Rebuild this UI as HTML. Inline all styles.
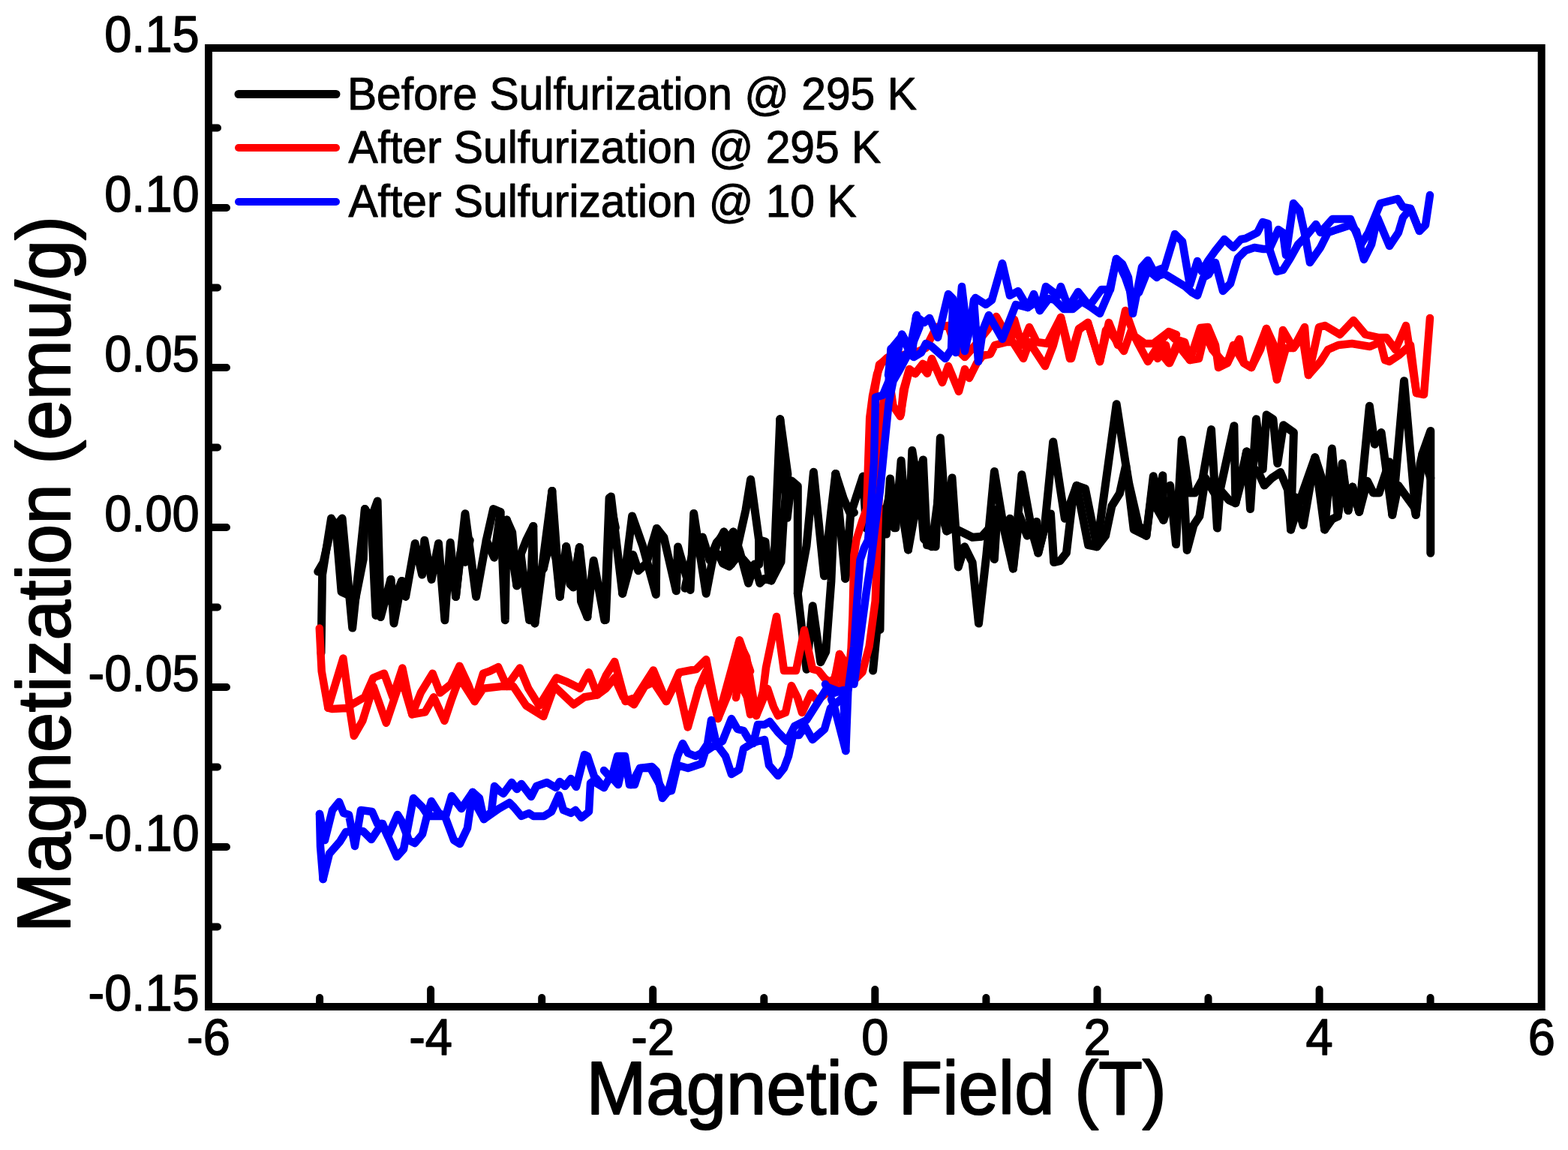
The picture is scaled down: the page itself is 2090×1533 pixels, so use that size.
<!DOCTYPE html>
<html><head><meta charset="utf-8"><title>Magnetization vs Magnetic Field</title>
<style>
html,body{margin:0;padding:0;background:#fff;}
body{width:2090px;height:1533px;overflow:hidden;}
svg{display:block;}
text{font-family:"Liberation Sans",Arial,sans-serif;fill:#000;}
</style></head><body>
<svg width="2090" height="1533" viewBox="0 0 2090 1533">
<rect width="2090" height="1533" fill="#fff"/>
<g fill="none" stroke="#000" stroke-width="11" stroke-linejoin="round" stroke-linecap="round">
<polyline points="428.0,870.5 429.6,766.1 441.5,691.0 447.8,701.4 456.1,691.0 469.7,837.1 486.4,678.5 494.8,691.0 503.1,668.0 507.3,822.5 520.9,772.4 525.0,830.9 535.5,774.5 540.7,795.4 553.2,724.4 562.6,766.1 565.8,720.2 575.1,772.4 584.5,724.4 592.9,826.7 600.2,723.3 607.5,795.4 620.0,684.7 634.6,795.4 648.2,720.2 657.6,678.5 667.0,682.6 673.3,826.7 675.4,693.1 688.9,780.8 694.1,739.0 705.6,826.7 710.8,701.4 712.9,830.9 735.9,654.4 746.3,795.4 754.7,728.6 764.1,782.8 772.4,729.6 782.9,822.5 791.2,747.3 805.8,826.7 812.1,663.8 820.4,703.5"/>
<polyline points="423.8,762.0 431.1,749.4 441.5,703.5"/>
<polyline points="447.8,701.4 455.1,789.1 473.9,797.5 484.3,745.3 486.4,678.5"/>
<polyline points="494.8,691.0 501.0,820.4"/>
<polyline points="520.9,772.4 523.0,803.7 530.3,787.0 535.5,774.5"/>
<polyline points="607.5,795.4 613.8,736.9 620.0,749.4 626.3,720.2"/>
<polyline points="648.2,720.2 658.7,743.2 667.0,682.6"/>
<polyline points="675.4,693.1 682.7,709.8 688.9,780.8"/>
<polyline points="694.1,739.0 701.5,720.2 710.8,701.4"/>
<polyline points="712.9,830.9 718.2,766.1 724.4,757.8 733.8,718.1 741.1,745.3 746.3,795.4"/>
<polyline points="735.9,654.4 730.7,703.5 724.4,757.8"/>
<polyline points="754.7,728.6 759.9,778.7 764.1,782.8 772.4,729.6 774.5,801.6 782.9,822.5"/>
<polyline points="807.3,826.5 814.4,662.1 829.7,791.2 842.6,687.9 856.7,727.8 874.3,792.4 875.4,704.4 884.8,716.1 901.3,787.7 903.6,729.0 920.1,786.5 924.7,684.4 941.2,791.2 948.9,751.1 955.0,726.9 964.9,709.1 971.0,718.0 977.3,709.1 986.0,734.9 997.5,777.4 1006.0,752.0 1012.8,777.4 1018.7,771.5 1028.1,773.9 1032.8,727.8 1039.8,558.8 1049.2,690.3 1055.1,641.0 1063.3,648.0 1063.3,791.2 1075.0,892.2 1083.2,807.7 1093.8,882.8 1100.8,868.7 1107.9,774.8 1113.8,631.6 1126.7,771.3 1133.7,685.6 1150.2,635.1 1154.8,704.4"/>
<polyline points="829.7,791.2 843.7,739.6 850.8,760.7 861.4,751.3 875.4,704.4"/>
<polyline points="913.0,784.2 927.1,718.4 936.5,716.1 945.9,746.6 955.3,723.1 965.8,711.4"/>
<polyline points="1063.3,791.2 1075.0,727.8 1084.4,629.2 1098.5,767.8 1107.9,680.9 1113.8,631.6"/>
<polyline points="1039.8,558.8 1049.9,632.0 1044.5,690.0 1041.0,749.0 1028.1,773.9"/>
<polyline points="958.1,739.1 963.5,751.1 971.9,755.1 980.6,745.0 983.9,725.0 994.0,679.9 1000.6,639.1 1011.6,719.9 1011.6,752.5 998.7,755.1 990.0,745.0"/>
<polyline points="1113.8,631.6 1124.3,664.4 1133.7,685.6 1138.4,683.2"/>
<polyline points="1126.7,771.3 1133.7,727.8"/>
<polyline points="965.0,709.0 967.0,745.0 971.0,718.0 975.0,752.0 977.4,709.0"/>
<polyline points="1011.6,719.8 1020.0,722.0 1025.0,770.0"/>
<polyline points="1163.6,894.0 1168.7,841.4 1172.7,760.6 1174.7,700.0"/>
<polyline points="1173.0,839.4 1175.1,678.7 1181.3,712.1 1186.5,638.0 1193.8,703.7 1201.1,613.9 1210.5,732.9 1215.8,600.4 1223.1,645.3 1230.4,612.9 1235.6,726.7 1247.1,728.8 1253.3,583.7 1261.7,707.9 1269.0,636.9 1277.3,755.9 1285.7,728.8 1296.1,749.6 1304.5,831.1 1314.9,739.2 1325.4,628.6 1337.9,703.7 1350.4,758.0 1361.9,632.7 1375.5,707.9 1383.8,737.1 1392.2,703.7 1403.7,588.9 1419.3,691.2 1435.0,647.3 1446.5,651.5 1462.1,728.8 1488.2,538.8 1500.7,620.2 1511.2,705.8 1527.9,714.2 1537.3,634.8 1543.5,666.1 1549.8,633.8 1550.8,693.3 1560.0,666.1"/>
<polyline points="1175.1,707.9 1186.5,655.7 1191.8,703.7 1200.1,666.1 1210.5,732.9 1218.9,687.0 1223.1,620.2 1231.4,718.3 1241.9,728.8 1250.2,666.1 1261.7,707.9 1271.1,703.7 1283.6,710.0 1296.1,716.2 1308.7,715.2 1317.0,705.8 1325.4,745.5 1329.5,678.7 1337.9,703.7 1346.2,691.2 1350.4,758.0 1358.8,687.0 1369.2,714.2 1381.7,695.4 1383.8,737.1 1392.2,703.7 1400.5,684.9 1404.7,749.6 1413.0,747.6 1421.4,737.1 1429.7,666.1 1435.0,647.3 1450.6,726.7 1462.1,728.8 1473.6,714.2 1481.9,674.5 1492.4,657.8 1500.7,620.2 1504.9,645.3 1517.4,699.5 1527.9,714.2 1536.2,649.4 1542.5,678.7 1550.8,693.3"/>
<polyline points="1559.6,647.1 1567.5,725.6 1575.3,586.3 1585.1,656.9 1593.0,656.9 1602.8,639.3 1614.5,572.6 1622.4,704.0 1626.3,653.0 1644.9,567.7 1646.9,670.7 1661.6,602.0 1666.5,678.5 1674.4,558.8 1683.2,625.5 1688.1,553.0 1696.9,558.8 1702.8,617.7 1710.7,566.7 1724.4,576.5 1720.5,706.0 1726.3,662.8 1737.1,700.1 1752.8,609.8 1765.6,706.0 1775.4,598.1 1783.2,688.3 1789.1,617.7 1797.0,680.5 1802.8,649.1 1811.7,682.4 1825.4,541.2 1832.3,592.2 1841.1,576.5 1855.8,686.3 1871.5,507.8 1887.2,686.3 1896.0,604.9 1906.8,574.5 1906.8,737.3"/>
<polyline points="1577.3,637.3 1582.2,733.4 1591.0,700.1 1598.8,688.3 1606.7,637.3 1618.5,656.9 1626.3,653.0 1638.1,666.7 1646.9,670.7 1655.7,637.3 1661.6,602.0 1667.5,621.6 1677.3,629.5 1685.2,647.1 1695.0,637.3 1706.7,629.5 1716.5,653.0 1720.5,706.0 1736.2,656.9 1752.8,609.8 1761.7,637.3 1765.6,706.0 1775.4,692.2 1783.2,688.3 1791.1,637.3 1797.0,680.5 1802.8,649.1 1811.7,682.4 1822.5,641.2 1830.3,656.9 1838.2,656.9 1851.9,615.7 1855.8,686.3 1863.7,647.1 1885.2,676.5 1887.2,686.3 1893.1,617.7 1896.0,604.9 1906.8,637.3"/>
</g>
<g fill="none" stroke="#f00" stroke-width="10.5" stroke-linejoin="round" stroke-linecap="round">
<polyline points="425.8,837.4 428.7,894.8 437.3,943.7 457.4,877.6 466.0,940.8 486.1,929.3 497.6,903.5 512.0,897.7 523.5,929.3 536.4,890.5 549.3,952.3 560.8,923.6 576.6,897.7 586.6,923.6 601.0,912.1 612.5,887.7 623.9,912.1 632.6,935.0 644.0,897.7 652.7,894.8 664.1,889.1 675.6,914.9 692.9,890.5 704.3,917.8 718.7,940.8 741.7,903.5 756.0,909.2 773.2,917.8 784.7,896.3 796.2,926.4 807.7,900.6 819.2,881.9 833.5,935.0 847.9,929.3 870.9,893.4 888.1,935.0 905.3,896.3 928.3,892.0 941.2,879.1 957.0,958.0 985.7,853.2 1000.1,894.8"/>
<polyline points="437.3,943.7 443.1,945.1 466.0,943.7 471.8,981.0 483.3,960.9 497.6,914.9 514.8,963.7 526.3,929.3 534.9,903.5 549.3,952.3 566.5,949.4 578.0,929.3 592.4,960.9 601.0,935.0 612.5,903.5 632.6,935.0 644.0,917.8 669.9,914.9 684.2,914.9 701.5,940.8 724.4,955.1 738.8,914.9 764.6,939.3 779.0,929.3 796.2,926.4 807.7,917.8 819.2,903.5 830.7,929.3 845.0,939.3 859.4,914.9 870.9,909.2 888.1,935.0 902.4,906.3 916.8,969.5 931.2,917.8 941.2,894.8 957.0,958.0 971.3,923.6 985.7,874.7 1000.1,952.3"/>
<polyline points="973.0,918.0 985.0,856.0 995.0,876.0 1008.0,954.0 1017.0,922.0 1021.0,890.0 1035.0,822.0 1045.0,894.0 1051.0,894.0 1061.0,894.0 1072.0,840.0 1083.0,892.0 1091.0,894.0 1099.0,904.0 1111.0,914.0 1119.0,872.0 1127.0,884.0"/>
<polyline points="981.0,930.0 985.0,902.0 991.0,920.0 1001.0,938.0 1008.0,954.0 1023.0,918.0 1031.0,942.0 1037.0,954.0 1047.0,950.0 1055.0,914.0 1063.0,930.0 1069.0,950.0 1081.0,924.0 1089.0,934.0 1099.0,926.0 1111.0,914.0 1123.0,916.0 1127.0,920.0"/>
<polyline points="1119.0,872.0 1123.5,921.0 1131.0,901.5 1134.6,864.0 1136.5,820.0 1138.4,740.0 1141.5,719.5 1149.4,694.0 1155.2,678.4 1157.2,615.8 1159.2,557.0 1163.0,527.7 1169.0,498.3 1174.8,484.6 1182.6,476.8 1195.0,470.0"/>
<polyline points="1103.0,910.0 1112.0,905.0 1120.0,880.0 1124.0,897.0 1130.0,915.0 1149.5,896.0 1158.6,861.6 1166.7,801.0 1169.7,720.0 1172.0,650.0 1174.0,580.0 1178.0,530.0 1186.0,510.0 1190.5,541.0 1200.0,555.0 1206.0,518.0 1212.0,494.0 1220.0,498.0 1230.0,485.0 1240.0,490.0"/>
<polyline points="1162.0,560.0 1166.0,520.0 1172.0,486.0 1180.0,480.0 1200.0,474.0 1220.0,470.0 1234.0,464.0 1248.0,436.0 1264.0,434.0 1274.0,464.0 1286.0,476.0 1300.0,460.0 1316.0,440.0 1328.0,422.0 1336.0,436.0 1348.0,452.0 1352.0,426.0 1362.0,460.0 1372.0,436.0 1382.0,456.0 1396.0,458.0 1414.0,423.0 1426.0,478.0 1438.0,438.0 1450.0,430.0 1466.0,482.0 1478.0,430.0 1490.0,460.0 1500.0,414.0 1512.0,448.0 1526.0,458.0 1544.0,458.0 1558.0,442.0 1568.0,446.0"/>
<polyline points="1201.0,552.0 1204.0,520.0 1212.0,492.0 1220.0,498.0 1228.0,488.0 1236.0,498.0 1242.0,478.0 1256.0,510.0 1264.0,488.0 1278.0,522.0 1286.0,492.0 1292.0,504.0 1302.0,484.0 1310.0,474.0 1320.0,472.0 1326.0,460.0 1342.0,456.0 1350.0,456.0 1364.0,478.0 1372.0,456.0 1393.0,488.0 1404.0,460.0 1414.0,423.0 1428.0,478.0 1438.0,440.0 1450.0,430.0 1466.0,482.0 1474.0,440.0 1482.0,446.0 1498.0,468.0 1508.0,440.0 1516.0,456.0 1530.0,482.0 1542.0,464.0 1558.0,484.0 1568.0,460.0"/>
<polyline points="1540.0,456.0 1557.0,443.0 1566.0,452.0 1579.0,456.0 1586.0,480.0 1600.0,437.0 1610.0,436.0 1620.0,460.0 1624.0,490.0 1636.0,484.0 1652.0,452.0 1658.0,484.0 1668.0,490.0 1688.0,438.0 1702.0,506.0 1710.0,440.0 1724.0,464.0 1739.0,436.0 1744.0,500.0 1752.0,464.0 1758.0,436.0 1766.0,434.0 1786.0,446.0 1804.0,427.0 1820.0,446.0 1838.0,450.0 1848.0,450.0 1860.0,466.0 1874.0,434.0 1888.0,524.0 1898.0,526.0 1906.0,424.0"/>
<polyline points="1543.0,478.0 1554.0,460.0 1559.0,484.0 1570.0,460.0 1586.0,480.0 1598.0,478.0 1606.0,444.0 1616.0,466.0 1628.0,480.0 1636.0,484.0 1644.0,460.0 1658.0,484.0 1668.0,490.0 1680.0,466.0 1688.0,438.0 1698.0,460.0 1702.0,506.0 1714.0,464.0 1724.0,464.0 1736.0,448.0 1744.0,500.0 1760.0,482.0 1770.0,466.0 1784.0,460.0 1802.0,458.0 1826.0,462.0 1840.0,456.0 1846.0,480.0 1852.0,482.0 1864.0,474.0 1880.0,460.0 1888.0,524.0"/>
</g>
<g fill="none" stroke="#00f" stroke-width="10.5" stroke-linejoin="round" stroke-linecap="round">
<polyline points="426.0,1085.0 427.0,1128.0 430.6,1172.0"/>
<polyline points="426.0,1085.0 433.0,1120.0 443.0,1080.0 452.0,1069.0 458.0,1084.0 465.0,1086.0 473.0,1128.0 481.0,1080.0 496.0,1082.0 503.0,1098.0 510.0,1098.0 517.0,1115.0 530.0,1086.0 535.0,1094.0 545.0,1120.0 553.0,1124.0 563.0,1112.0 569.0,1088.0 575.0,1068.0 585.0,1084.0 594.0,1088.0 602.0,1061.0 615.0,1078.0 630.0,1056.0 639.0,1064.0 645.0,1092.0 655.0,1082.0 659.0,1048.0 665.0,1054.0 671.0,1058.0 682.0,1043.0 689.0,1052.0 695.0,1045.0 708.0,1062.0 715.0,1048.0 729.0,1043.0 741.0,1050.0 746.0,1042.0 753.0,1048.0 761.0,1038.0 768.0,1049.0 779.0,1006.0 783.0,1008.0 795.0,1044.0 805.0,1050.0 813.0,1036.0 823.0,1030.0"/>
<polyline points="430.6,1172.0 439.0,1138.0 453.0,1122.0 461.0,1109.0 474.0,1108.0 484.0,1108.0 495.0,1119.0 509.0,1098.0 517.0,1115.0 529.0,1142.0 538.0,1132.0 545.0,1096.0 551.0,1064.0 563.0,1076.0 571.0,1088.0 579.0,1088.0 593.0,1088.0 605.0,1120.0 613.0,1125.0 623.0,1104.0 630.0,1056.0 633.0,1070.0 645.0,1092.0 665.0,1078.0 679.0,1070.0 685.0,1076.0 695.0,1088.0 705.0,1084.0 711.0,1088.0 725.0,1088.0 735.0,1082.0 745.0,1060.0 751.0,1080.0 761.0,1084.0 767.0,1080.0 775.0,1090.0 785.0,1082.0 787.0,1044.0 795.0,1038.0 805.0,1050.0"/>
<polyline points="805.0,1027.0 815.0,1038.0 823.0,1008.0 833.0,1008.0 839.0,1046.0 846.0,1046.0 853.0,1024.0 869.0,1022.0 875.0,1028.0 883.0,1064.0 891.0,1054.0 897.0,1032.0 903.0,1008.0 910.0,991.0 917.0,1004.0 927.0,1008.0 935.0,1004.0 943.0,992.0 948.0,960.0 955.0,992.0 963.0,988.0 975.0,958.0 983.0,972.0 991.0,974.0 997.0,984.0 1004.0,991.0 1010.0,966.0 1019.0,966.0 1026.0,962.0 1037.0,976.0 1049.0,988.0 1059.0,968.0 1067.0,964.0 1075.0,960.0 1103.0,916.0 1121.0,923.0 1127.0,928.0"/>
<polyline points="817.0,1038.0 824.0,1046.0 831.0,1016.0 841.0,1046.0 853.0,1024.0 867.0,1024.0 885.0,1056.0 895.0,1054.0 903.0,1020.0 917.0,1024.0 935.0,1018.0 940.0,1002.0 955.0,992.0 967.0,1008.0 975.0,1032.0 985.0,1026.0 991.0,998.0 1004.0,990.0 1011.0,988.0 1019.0,986.0 1025.0,1020.0 1037.0,1034.0 1045.0,1024.0 1051.0,1008.0 1057.0,980.0 1065.0,980.0 1073.0,968.0 1083.0,986.0 1099.0,972.0 1107.0,944.0 1121.0,932.0 1128.0,940.0"/>
<polyline points="1100.0,912.0 1108.0,925.0 1124.0,920.0 1127.3,1001.0 1130.3,922.0 1138.4,861.6 1142.4,801.0 1146.5,746.5 1152.0,730.0 1157.0,720.0 1161.0,674.5 1165.0,615.8 1167.0,529.6 1176.8,526.7 1184.6,508.0 1187.5,465.0 1194.4,478.7 1202.2,445.5 1212.0,469.0 1221.8,420.0"/>
<polyline points="1108.0,932.0 1112.0,942.0 1127.3,1001.0"/>
<polyline points="1138.4,912.0 1146.5,851.5 1154.5,791.0 1160.6,750.5 1166.7,700.0 1172.9,655.0 1178.7,596.0 1184.6,537.5 1190.5,508.0 1198.3,494.4 1212.0,469.0 1217.9,455.0 1225.7,435.7"/>
<polyline points="1184.0,500.0 1188.0,465.0 1203.0,447.0 1216.0,470.0 1221.0,422.0 1232.0,430.0 1239.0,424.0 1250.0,450.0 1264.0,392.0 1270.0,398.0 1274.0,470.0 1282.0,382.0 1290.0,450.0 1300.0,397.0 1314.0,406.0 1322.0,400.0 1336.0,351.0 1346.0,394.0 1357.0,388.0 1370.0,410.0 1378.0,392.0 1386.0,414.0 1394.0,382.0 1410.0,394.0 1414.0,382.0 1424.0,410.0 1437.0,389.0 1452.0,408.0 1468.0,386.0 1480.0,386.0 1488.0,345.0 1496.0,352.0 1504.0,370.0 1510.0,418.0 1522.0,356.0 1530.0,347.0 1538.0,362.0 1548.0,358.0"/>
<polyline points="1190.0,498.0 1198.0,480.0 1210.0,470.0 1218.0,476.0 1228.0,470.0 1234.0,458.0 1242.0,462.0 1260.0,478.0 1268.0,466.0 1270.0,410.0 1278.0,410.0 1286.0,468.0 1294.0,430.0 1298.0,400.0 1304.0,482.0 1310.0,440.0 1318.0,420.0 1336.0,452.0 1354.0,406.0 1370.0,410.0 1382.0,402.0 1386.0,414.0 1398.0,398.0 1406.0,400.0 1418.0,412.0 1430.0,412.0 1442.0,402.0 1452.0,408.0 1466.0,418.0 1478.0,390.0 1488.0,345.0 1500.0,370.0 1509.0,396.0 1518.0,390.0 1530.0,360.0 1542.0,370.0"/>
<polyline points="1540.0,364.0 1552.0,358.0 1566.0,312.0 1576.0,322.0 1586.0,380.0 1596.0,348.0 1602.0,362.0 1610.0,348.0 1620.0,334.0 1632.0,319.0 1644.0,330.0 1654.0,319.0 1660.0,318.0 1676.0,310.0 1683.0,296.0 1690.0,298.0 1692.0,332.0 1704.0,306.0 1710.0,310.0 1714.0,340.0 1724.0,271.0 1732.0,280.0 1740.0,316.0 1754.0,299.0 1760.0,310.0 1776.0,292.0 1800.0,292.0 1814.0,326.0 1824.0,310.0 1840.0,271.0 1863.0,265.0 1870.0,276.0 1880.0,278.0 1892.0,308.0 1900.0,300.0 1906.0,260.0"/>
<polyline points="1543.0,368.0 1552.0,365.0 1580.0,382.0 1589.0,390.0 1596.0,394.0 1604.0,370.0 1611.0,366.0 1620.0,350.0 1630.0,388.0 1640.0,378.0 1650.0,344.0 1660.0,334.0 1672.0,330.0 1684.0,332.0 1692.0,332.0 1702.0,362.0 1710.0,360.0 1720.0,344.0 1730.0,326.0 1740.0,316.0 1746.0,350.0 1760.0,330.0 1770.0,310.0 1788.0,304.0 1800.0,300.0 1808.0,308.0 1818.0,346.0 1828.0,326.0 1836.0,290.0 1852.0,328.0 1864.0,310.0 1870.0,290.0 1880.0,278.0 1892.0,308.0"/>
</g>
<rect x="278.0" y="64.0" width="1776.7" height="1278.0" fill="none" stroke="#000" stroke-width="10"/>
<path d="M426.1,1342.0V1330.0M574.1,1342.0V1319.0M722.2,1342.0V1330.0M870.2,1342.0V1319.0M1018.3,1342.0V1330.0M1166.3,1342.0V1319.0M1314.4,1342.0V1330.0M1462.5,1342.0V1319.0M1610.5,1342.0V1330.0M1758.6,1342.0V1319.0M1906.6,1342.0V1330.0M278.0,1235.5H290.0M278.0,1129.0H302.0M278.0,1022.5H290.0M278.0,916.0H302.0M278.0,809.5H290.0M278.0,703.0H302.0M278.0,596.5H290.0M278.0,490.0H302.0M278.0,383.5H290.0M278.0,277.0H302.0M278.0,170.5H290.0" stroke="#000" stroke-width="10" stroke-linecap="round" fill="none"/>
<text transform="translate(278.0,1405.8) scale(1,1.04)" font-size="65" text-anchor="middle" stroke="#000" stroke-width="1.4" stroke-linejoin="round">-6</text>
<text transform="translate(574.1,1405.8) scale(1,1.04)" font-size="65" text-anchor="middle" stroke="#000" stroke-width="1.4" stroke-linejoin="round">-4</text>
<text transform="translate(870.2,1405.8) scale(1,1.04)" font-size="65" text-anchor="middle" stroke="#000" stroke-width="1.4" stroke-linejoin="round">-2</text>
<text transform="translate(1166.3,1405.8) scale(1,1.04)" font-size="65" text-anchor="middle" stroke="#000" stroke-width="1.4" stroke-linejoin="round">0</text>
<text transform="translate(1462.5,1405.8) scale(1,1.04)" font-size="65" text-anchor="middle" stroke="#000" stroke-width="1.4" stroke-linejoin="round">2</text>
<text transform="translate(1758.6,1405.8) scale(1,1.04)" font-size="65" text-anchor="middle" stroke="#000" stroke-width="1.4" stroke-linejoin="round">4</text>
<text transform="translate(2054.7,1405.8) scale(1,1.04)" font-size="65" text-anchor="middle" stroke="#000" stroke-width="1.4" stroke-linejoin="round">6</text>
<text transform="translate(265.7,1347.0) scale(1,1.04)" font-size="65" text-anchor="end" stroke="#000" stroke-width="1.4" stroke-linejoin="round">-0.15</text>
<text transform="translate(265.7,1134.0) scale(1,1.04)" font-size="65" text-anchor="end" stroke="#000" stroke-width="1.4" stroke-linejoin="round">-0.10</text>
<text transform="translate(265.7,921.0) scale(1,1.04)" font-size="65" text-anchor="end" stroke="#000" stroke-width="1.4" stroke-linejoin="round">-0.05</text>
<text transform="translate(265.7,708.0) scale(1,1.04)" font-size="65" text-anchor="end" stroke="#000" stroke-width="1.4" stroke-linejoin="round">0.00</text>
<text transform="translate(265.7,495.0) scale(1,1.04)" font-size="65" text-anchor="end" stroke="#000" stroke-width="1.4" stroke-linejoin="round">0.05</text>
<text transform="translate(265.7,282.0) scale(1,1.04)" font-size="65" text-anchor="end" stroke="#000" stroke-width="1.4" stroke-linejoin="round">0.10</text>
<text transform="translate(265.7,69.0) scale(1,1.04)" font-size="65" text-anchor="end" stroke="#000" stroke-width="1.4" stroke-linejoin="round">0.15</text>
<text transform="translate(1168.1,1484.8) scale(1,1.04)" font-size="96" text-anchor="middle" stroke="#000" stroke-width="2" stroke-linejoin="round">Magnetic Field (T)</text>
<text transform="translate(93,765.5) rotate(-90) scale(1,1.04)" font-size="96" text-anchor="middle" stroke="#000" stroke-width="2" stroke-linejoin="round">Magnetization (emu/g)</text>
<line x1="318" y1="125.5" x2="448" y2="125.5" stroke="#000" stroke-width="11" stroke-linecap="round"/>
<text transform="translate(462.9,146.1) scale(1,1.04)" font-size="58.8" text-anchor="start" stroke="#000" stroke-width="1.0" stroke-linejoin="round">Before Sulfurization @ 295 K</text>
<line x1="318" y1="197" x2="448" y2="197" stroke="#f00" stroke-width="10" stroke-linecap="round"/>
<text transform="translate(464.4,216.7) scale(1,1.04)" font-size="58.8" text-anchor="start" stroke="#000" stroke-width="1.0" stroke-linejoin="round">After Sulfurization @ 295 K</text>
<line x1="318" y1="269" x2="448" y2="269" stroke="#00f" stroke-width="10" stroke-linecap="round"/>
<text transform="translate(464.4,288.5) scale(1,1.04)" font-size="58.8" text-anchor="start" stroke="#000" stroke-width="1.0" stroke-linejoin="round">After Sulfurization @ 10 K</text>
</svg>
</body></html>
